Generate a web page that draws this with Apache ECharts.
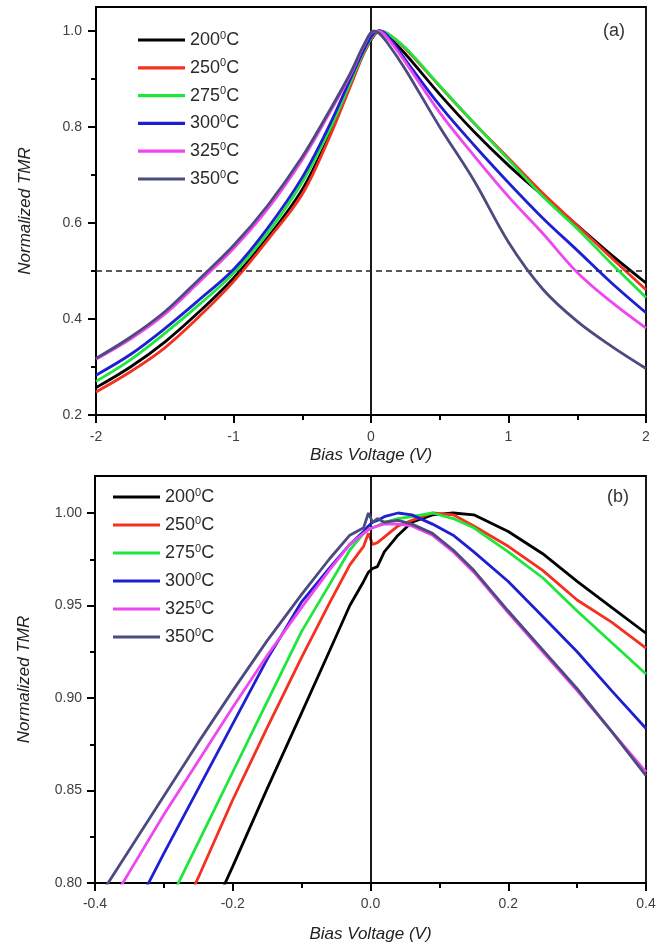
<!DOCTYPE html>
<html>
<head>
<meta charset="utf-8">
<script src="https://cdn.jsdelivr.net/npm/echarts@6/dist/echarts.min.js"></script>
<style>
html,body{margin:0;padding:0;background:#fff;}
#chart{width:662px;height:947px;}
</style>
</head>
<body>
<div id="chart"></div>
<script>
// ---------- data ----------
const LABELS = ['200', '250', '275', '300', '325', '350'];
const COLORS = ['#000000', '#f5301e', '#1ee63c', '#1e1ed2', '#f046f0', '#4b4b80'];

// panel (a)
const VOLTS_A = [-2, -1.75, -1.5, -1.25, -1, -0.75, -0.5, -0.3, -0.15, -0.05, 0.02, 0.06, 0.12, 0.25, 0.5, 0.75, 1, 1.25, 1.5, 1.75, 2];
const A_200 = [0.257, 0.300, 0.352, 0.415, 0.485, 0.570, 0.670, 0.785, 0.888, 0.956, 0.990, 1.000, 0.990, 0.952, 0.868, 0.790, 0.720, 0.657, 0.595, 0.533, 0.475];
const A_250 = [0.248, 0.290, 0.340, 0.405, 0.478, 0.565, 0.660, 0.780, 0.885, 0.955, 0.990, 1.000, 0.995, 0.963, 0.885, 0.808, 0.735, 0.662, 0.595, 0.527, 0.461];
const A_275 = [0.270, 0.315, 0.370, 0.430, 0.495, 0.580, 0.685, 0.795, 0.893, 0.958, 0.993, 1.000, 0.995, 0.965, 0.886, 0.808, 0.732, 0.655, 0.588, 0.515, 0.445];
const A_300 = [0.283, 0.326, 0.380, 0.440, 0.503, 0.590, 0.695, 0.805, 0.900, 0.962, 0.995, 1.000, 0.990, 0.940, 0.845, 0.762, 0.684, 0.610, 0.543, 0.475, 0.413];
const A_325 = [0.316, 0.358, 0.410, 0.477, 0.547, 0.630, 0.732, 0.830, 0.908, 0.970, 0.999, 0.999, 0.985, 0.935, 0.830, 0.740, 0.655, 0.578, 0.497, 0.435, 0.381];
const A_350 = [0.318, 0.362, 0.415, 0.483, 0.553, 0.637, 0.738, 0.835, 0.912, 0.972, 1.000, 0.995, 0.975, 0.920, 0.800, 0.688, 0.560, 0.462, 0.395, 0.343, 0.297];

// panel (b)
const VOLTS_B = [-0.4, -0.35, -0.3, -0.25, -0.2, -0.15, -0.1, -0.06, -0.03, -0.01, -0.003, 0.003, 0.01, 0.02, 0.04, 0.06, 0.09, 0.12, 0.15, 0.2, 0.25, 0.3, 0.35, 0.4];
const B_200 = [0.643, 0.685, 0.726, 0.768, 0.809, 0.851, 0.892, 0.925, 0.950, 0.963, 0.968, 0.970, 0.971, 0.979, 0.988, 0.995, 0.999, 1.000, 0.999, 0.990, 0.978, 0.963, 0.949, 0.935];
const B_250 = [0.680, 0.722, 0.762, 0.803, 0.845, 0.884, 0.922, 0.951, 0.972, 0.982, 0.989, 0.983, 0.984, 0.987, 0.993, 0.996, 1.000, 0.999, 0.993, 0.982, 0.969, 0.953, 0.941, 0.927];
const B_275 = [0.705, 0.745, 0.784, 0.822, 0.860, 0.898, 0.936, 0.961, 0.980, 0.989, 0.991, 0.992, 0.993, 0.995, 0.997, 0.998, 1.000, 0.997, 0.992, 0.979, 0.965, 0.947, 0.930, 0.913];
const B_300 = [0.745, 0.780, 0.816, 0.851, 0.886, 0.921, 0.952, 0.970, 0.983, 0.990, 0.993, 0.995, 0.996, 0.998, 1.000, 0.999, 0.994, 0.988, 0.979, 0.963, 0.944, 0.925, 0.904, 0.8835];
const B_325 = [0.775, 0.806, 0.837, 0.866, 0.895, 0.923, 0.949, 0.969, 0.983, 0.989, 0.991, 0.992, 0.993, 0.994, 0.994, 0.993, 0.988, 0.979, 0.968, 0.946, 0.925, 0.904, 0.882, 0.860];
const B_350 = [0.789, 0.818, 0.847, 0.876, 0.904, 0.931, 0.956, 0.975, 0.988, 0.992, 1.000, 0.995, 0.997, 0.995, 0.996, 0.994, 0.989, 0.980, 0.969, 0.947, 0.926, 0.905, 0.882, 0.858];

// ticks
const A_XTICKS = [-2, -1, 0, 1, 2];
const A_XMINOR = [-1.5, -0.5, 0.5, 1.5];
const A_YTICKS = [0.2, 0.4, 0.6, 0.8, 1.0];
const A_YMINOR = [0.3, 0.5, 0.7, 0.9];
const B_XTICKS = [-0.4, -0.2, 0.0, 0.2, 0.4];
const B_XMINOR = [-0.3, -0.1, 0.1, 0.3];
const B_YTICKS = [0.80, 0.85, 0.90, 0.95, 1.00];
const B_YMINOR = [0.825, 0.875, 0.925, 0.975];

const SERIES_A = [A_200, A_250, A_275, A_300, A_325, A_350];
const SERIES_B = [B_200, B_250, B_275, B_300, B_325, B_350];

// ---------- chart ----------
const FONT = 'Liberation Sans, Arial, sans-serif';
const chart = echarts.init(document.getElementById('chart'), null, {renderer: 'canvas'});

function majorX(grid, min, max, ticks, fmt, nameGap, labelMargin) {
  return {
    type: 'value', gridIndex: grid, position: 'bottom', min: min, max: max,
    name: 'Bias Voltage (V)', nameLocation: 'middle', nameGap: nameGap,
    nameTextStyle: {fontFamily: FONT, fontSize: 17, fontStyle: 'italic', color: '#222'},
    axisLine: {show: true, onZero: false, lineStyle: {color: '#000', width: 2}},
    axisTick: {show: true, inside: false, length: 8, lineStyle: {color: '#000', width: 2}, customValues: ticks},
    axisLabel: {show: true, margin: labelMargin, fontFamily: FONT, fontSize: 14, color: '#404040', customValues: ticks, formatter: fmt},
    splitLine: {show: false}
  };
}
function minorX(grid, min, max, ticks) {
  return {
    type: 'value', gridIndex: grid, position: 'bottom', min: min, max: max,
    axisLine: {show: false, onZero: false},
    axisTick: {show: true, length: 5, lineStyle: {color: '#000', width: 2}, customValues: ticks},
    axisLabel: {show: false}, splitLine: {show: false}
  };
}
function majorY(grid, min, max, ticks, fmt, nameGap, labelMargin) {
  return {
    type: 'value', gridIndex: grid, position: 'left', min: min, max: max,
    name: 'Normalized TMR', nameLocation: 'middle', nameGap: nameGap,
    nameTextStyle: {fontFamily: FONT, fontSize: 17, fontStyle: 'italic', color: '#222'},
    axisLine: {show: true, onZero: false, lineStyle: {color: '#000', width: 2}},
    axisTick: {show: true, length: 8, lineStyle: {color: '#000', width: 2}, customValues: ticks},
    axisLabel: {show: true, margin: labelMargin, fontFamily: FONT, fontSize: 14, color: '#404040', customValues: ticks, formatter: fmt},
    splitLine: {show: false}
  };
}
function minorY(grid, min, max, ticks) {
  return {
    type: 'value', gridIndex: grid, position: 'left', min: min, max: max,
    axisLine: {show: false, onZero: false},
    axisTick: {show: true, length: 5, lineStyle: {color: '#000', width: 2}, customValues: ticks},
    axisLabel: {show: false}, splitLine: {show: false}
  };
}

const series = [];
LABELS.forEach((lab, i) => {
  const sA = {
    name: lab, type: 'line', xAxisIndex: 0, yAxisIndex: 0,
    data: VOLTS_A.map((v, k) => [v, SERIES_A[i][k]]),
    symbol: 'none', smooth: 0.35, clip: true,
    lineStyle: {color: COLORS[i], width: 2.8}, itemStyle: {color: COLORS[i]},
    z: 3 + i
  };
  const sB = {
    name: lab, type: 'line', xAxisIndex: 2, yAxisIndex: 2,
    data: VOLTS_B.map((v, k) => [v, SERIES_B[i][k]]),
    symbol: 'none', smooth: false, clip: true,
    lineStyle: {color: COLORS[i], width: 2.8}, itemStyle: {color: COLORS[i]},
    z: 3 + i
  };
  if (i === 0) {
    sA.markLine = {
      silent: true, symbol: ['none', 'none'], label: {show: false}, animation: false,
      data: [
        {xAxis: 0, lineStyle: {color: '#000', width: 1.8, type: 'solid'}},
        {yAxis: 0.5, lineStyle: {color: '#222', width: 1.6, type: [6, 4]}}
      ]
    };
    sB.markLine = {
      silent: true, symbol: ['none', 'none'], label: {show: false}, animation: false,
      data: [{xAxis: 0, lineStyle: {color: '#000', width: 1.8, type: 'solid'}}]
    };
  }
  series.push(sA, sB);
});

const legendText = {
  fontFamily: FONT, color: '#2a2a2a',
  rich: {
    n: {fontFamily: FONT, fontSize: 18, lineHeight: 20, color: '#2a2a2a'},
    s: {fontFamily: FONT, fontSize: 11, lineHeight: 11, verticalAlign: 'top', color: '#2a2a2a'}
  }
};
function legendFmt(name) { return '{n|' + name + '}{s|0}{n|C}'; }

const option = {
  animation: false,
  backgroundColor: '#ffffff',
  grid: [
    {left: 96, top: 7, width: 550, height: 408, show: true, borderColor: '#000', borderWidth: 1.8, containLabel: false},
    {left: 95, top: 476, width: 551, height: 407, show: true, borderColor: '#000', borderWidth: 1.8, containLabel: false}
  ],
  xAxis: [
    majorX(0, -2, 2, A_XTICKS, v => String(Math.round(v)), 32, 15),
    minorX(0, -2, 2, A_XMINOR),
    majorX(1, -0.4, 0.4, B_XTICKS, v => v.toFixed(1), 43, 14),
    minorX(1, -0.4, 0.4, B_XMINOR)
  ],
  yAxis: [
    majorY(0, 0.2, 1.05, A_YTICKS, v => v.toFixed(1), 62, 14),
    minorY(0, 0.2, 1.05, A_YMINOR),
    majorY(1, 0.8, 1.02, B_YTICKS, v => v.toFixed(2), 62, 13),
    minorY(1, 0.8, 1.02, B_YMINOR)
  ],
  legend: [
    {
      orient: 'vertical', left: 138, top: 30, padding: 0, itemGap: 8.8,
      itemWidth: 47, itemHeight: 3.2, icon: 'rect', selectedMode: false,
      data: LABELS, formatter: legendFmt, textStyle: legendText
    },
    {
      orient: 'vertical', left: 113, top: 487, padding: 0, itemGap: 9,
      itemWidth: 47, itemHeight: 3.2, icon: 'rect', selectedMode: false,
      data: LABELS, formatter: legendFmt, textStyle: legendText
    }
  ],
  graphic: [
    {type: 'text', left: 603, top: 22, style: {text: '(a)', font: '18px Liberation Sans, Arial, sans-serif', fill: '#333'}},
    {type: 'text', left: 607, top: 488, style: {text: '(b)', font: '18px Liberation Sans, Arial, sans-serif', fill: '#333'}}
  ],
  series: series
};
chart.setOption(option);
</script>
</body>
</html>
